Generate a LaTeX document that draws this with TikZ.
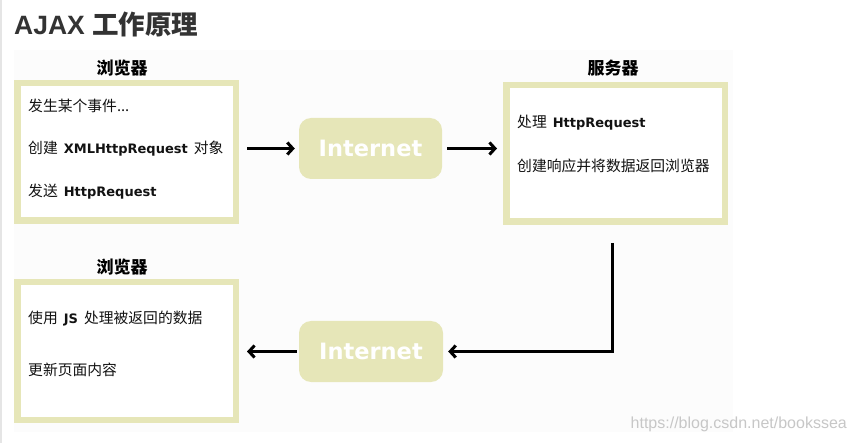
\documentclass[tikz,border=0pt]{standalone}
\usepackage{fontspec}
\setmainfont{Liberation Sans}
\newfontfamily\cjk{Noto Sans CJK SC}
\newfontfamily\lat{DejaVu Sans}
\usetikzlibrary{arrows.meta}
\definecolor{khaki}{RGB}{230,230,184}
\definecolor{titlegray}{RGB}{51,51,51}
\definecolor{panelbg}{RGB}{252,252,252}
\newcommand{\zh}[1]{{\cjk\fontsize{14.8}{17}\selectfont #1}}
\newcommand{\en}[1]{{\lat\bfseries\fontsize{13}{16}\selectfont #1}}
\newcommand{\gap}{\hspace{6pt}}
\tikzset{
  panel/.style={draw=khaki, line width=6.5pt, fill=white, minimum width=218.5pt, minimum height=137.5pt, inner sep=0pt},
  netbox/.style={fill=khaki, rounded corners=12pt, minimum width=143pt, minimum height=61pt, inner sep=0pt,
    text=white, font=\lat\bfseries\fontsize{22.5}{24}\selectfont},
  boxlabel/.style={font=\cjk\bfseries\fontsize{17}{19}\selectfont, text=black},
  line/.style={anchor=west, inner sep=0pt, text=black!93},
  flow/.style={line width=3pt, -{Straight Barb[length=5.5pt,width=12pt,line width=3pt]}}
}
\begin{document}
\begin{tikzpicture}[x=1pt,y=-1pt]
\useasboundingbox (0,0) rectangle (856,443);
\fill[white] (0,0) rectangle (856,443);
\fill[black!10] (0,0) rectangle (2,443);
\fill[panelbg] (14,50) rectangle (733,432);
% title
\node[anchor=base west, inner sep=0pt, text=titlegray] (title) at (14,35)
  {\fontsize{26.5}{30}\selectfont\bfseries AJAX {\cjk\bfseries 工作原理}};
% boxes
\node[panel] (b1) at (126.5,152) {};
\node[panel, minimum height=136.5pt] (srv) at (615.5,153.5) {};
\node[panel] (b3) at (126.5,351) {};
\node[boxlabel] (l1) at (122,68) {浏览器};
\node[boxlabel] (l2) at (613,68) {服务器};
\node[boxlabel] (l3) at (122,267) {浏览器};
% texts
\node[line] (t1) at (28,106) {\zh{发生某个事件...}};
\node[line] (t2) at (28,149) {\zh{创建}\gap\en{XMLHttpRequest}\gap\zh{对象}};
\node[line] (t3) at (28,192) {\zh{发送}\gap\en{HttpRequest}};
\node[line] (s1) at (517,123) {\zh{处理}\gap\en{HttpRequest}};
\node[line] (s2) at (517,166) {\zh{创建响应并将数据返回浏览器}};
\node[line] (u1) at (28,319) {\zh{使用}\gap\en{JS}\gap\zh{处理被返回的数据}};
\node[line] (u2) at (28,370) {\zh{更新页面内容}};
% internet boxes
\node[netbox] (n1) at (370.5,148.5) {Internet};
\node[netbox, minimum width=144pt] (n2) at (371,351.5) {Internet};
% connectors
\draw[flow, shorten <=8pt, shorten >=4pt] (b1.east |- n1.west) -- (n1.west);
\draw[flow, shorten <=5pt, shorten >=6pt] (n1.east) -- (srv.west |- n1.east);
\coordinate (c1) at (612,243);
\draw[flow, shorten >=5pt] (c1) -- (c1 |- n2.east) -- (n2.east);
\draw[flow, shorten <=2pt, shorten >=8pt] (n2.west) -- (b3.east |- n2.west);
% watermark
\node[anchor=east, inner sep=0pt, text=black!22, font=\fontsize{16}{18}\selectfont] (wm) at (847,424) {https://blog.csdn.net/bookssea};
\end{tikzpicture}
\end{document}
